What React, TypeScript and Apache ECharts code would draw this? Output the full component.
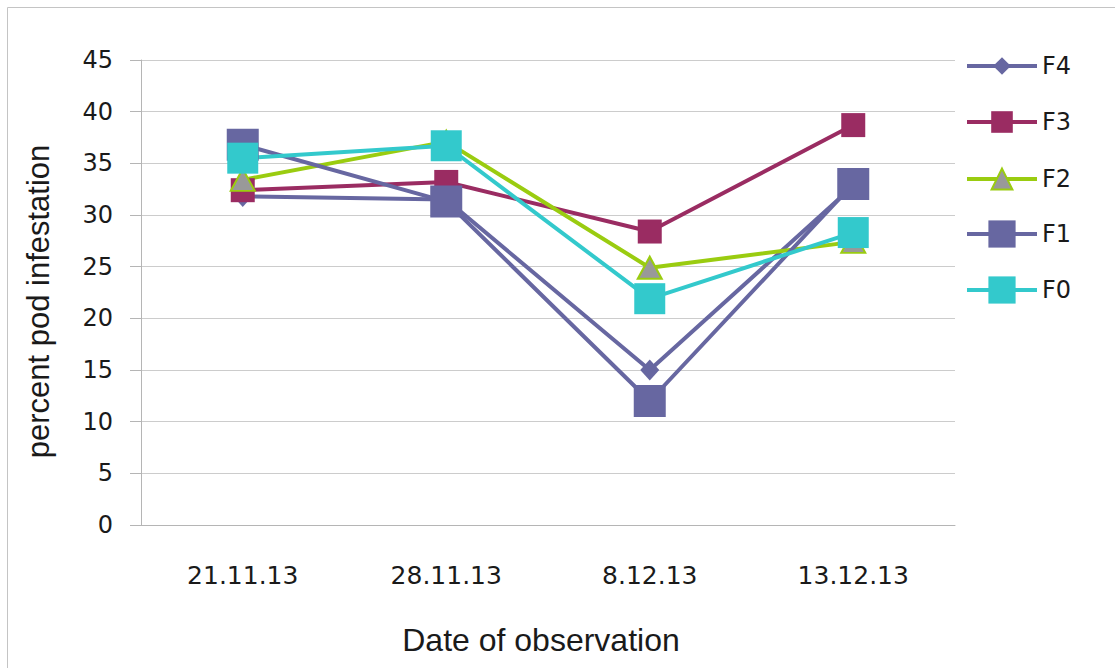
import React, { useEffect, useRef } from "react";
import * as echarts from "echarts";

const categories = ["21.11.13", "28.11.13", "8.12.13", "13.12.13"];
const f4 = [31.8, 31.5, 15.0, 32.8];
const f3 = [32.4, 33.2, 28.4, 38.7];
const f2 = [33.4, 37.1, 24.9, 27.4];
const f1 = [36.8, 31.3, 12.0, 33.0];
const f0 = [35.5, 36.7, 21.9, 28.3];

const FONT = "'DejaVu Sans', 'Open Sans', sans-serif";
const NAMEFONT = "'Liberation Sans', Arial, sans-serif";
const PURPLE = "#6767A1";
const MAROON = "#9A2C62";
const LIME = "#9ACC10";
const CYAN = "#33C9CC";

export default function App() {
  const ref = useRef<HTMLDivElement>(null);
  useEffect(() => {
    if (!ref.current) return;
    const chart = echarts.init(ref.current, null, { renderer: "svg" });
    const legendItems = [
      { name: "F4", cy: 66, ih: 22 },
      { name: "F3", cy: 122, ih: 27 },
      { name: "F2", cy: 179, ih: 26 },
      { name: "F1", cy: 236, ih: 34 },
      { name: "F0", cy: 292, ih: 34 },
    ];
    const lh = 30;
    chart.setOption({
      animation: false,
      backgroundColor: "#ffffff",
      graphic: [
        {
          type: "rect",
          shape: { x: 7.5, y: 7.5, width: 1200, height: 700 },
          style: { fill: "none", stroke: "#c4c4c4", lineWidth: 1 },
          silent: true,
        },
      ],
      legend: legendItems.map((l) => ({
        data: [l.name],
        orient: "vertical",
        left: 965,
        top: l.cy - Math.max(l.ih, lh) / 2,
        padding: 0,
        itemWidth: 70,
        itemHeight: l.ih,
        itemGap: 0,
        lineStyle: { width: 4 },
        textStyle: { fontFamily: FONT, fontSize: 24, color: "#1a1a1a", lineHeight: lh, padding: [0, 0, 0, 0] },
      })),
      grid: { left: 141, right: 160, top: 60, bottom: 143 },
      xAxis: {
        type: "category",
        data: categories,
        boundaryGap: true,
        name: "Date of observation",
        nameLocation: "middle",
        nameGap: 99,
        nameTextStyle: { fontFamily: NAMEFONT, fontSize: 32, color: "#1a1a1a", padding: [0, 14, 0, 0] },
        axisLine: { lineStyle: { color: "#b5b5b5", width: 1 } },
        axisTick: { show: false },
        axisLabel: { fontFamily: FONT, fontSize: 25, color: "#1a1a1a", margin: 38 },
      },
      yAxis: {
        type: "value",
        min: 0,
        max: 45,
        interval: 5,
        name: "percent pod infestation",
        nameLocation: "middle",
        nameGap: 87,
        nameTextStyle: { fontFamily: NAMEFONT, fontSize: 31, color: "#1a1a1a", padding: [0, 18, 0, 0] },
        axisLine: { show: true, lineStyle: { color: "#b5b5b5", width: 1 } },
        axisTick: { show: true, length: 11, lineStyle: { color: "#b5b5b5" } },
        axisLabel: { fontFamily: FONT, fontSize: 24, color: "#1a1a1a", margin: 28 },
        splitLine: { lineStyle: { color: "#cccccc", width: 1 } },
      },
      series: [
        {
          name: "F4",
          type: "line",
          data: f4,
          symbol: "diamond",
          symbolSize: [19, 21],
          lineStyle: { color: PURPLE, width: 4 },
          itemStyle: { color: PURPLE },
        },
        {
          name: "F3",
          type: "line",
          data: f3,
          symbol: "rect",
          symbolSize: 24,
          lineStyle: { color: MAROON, width: 4 },
          itemStyle: { color: MAROON },
        },
        {
          name: "F2",
          type: "line",
          data: f2,
          symbol: "triangle",
          symbolSize: [24, 22],
          lineStyle: { color: LIME, width: 4 },
          itemStyle: { color: "#999999", borderColor: LIME, borderWidth: 2 },
        },
        {
          name: "F1",
          type: "line",
          data: f1,
          symbol: "rect",
          symbolSize: 32,
          lineStyle: { color: PURPLE, width: 4 },
          itemStyle: { color: PURPLE },
        },
        {
          name: "F0",
          type: "line",
          data: f0,
          symbol: "rect",
          symbolSize: 31,
          lineStyle: { color: CYAN, width: 4 },
          itemStyle: { color: CYAN },
        },
      ],
    });
    return () => chart.dispose();
  }, []);
  return (
    <div
      ref={ref}
      style={{ position: "absolute", left: 0, top: 0, width: 1115, height: 668 }}
    />
  );
}
